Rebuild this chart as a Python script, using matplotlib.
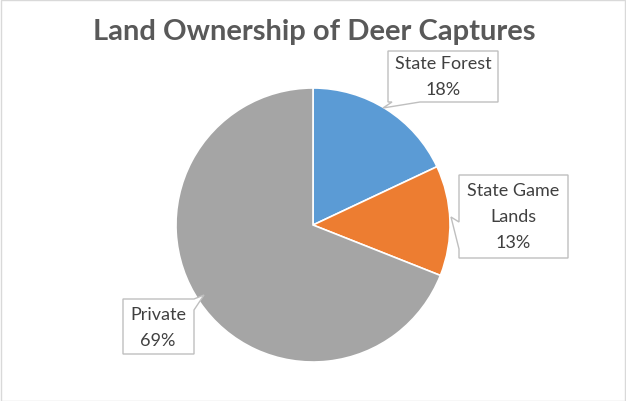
import matplotlib.pyplot as plt
from matplotlib.patches import Polygon, Rectangle

labels = ["State Forest", "State Game Lands", "Private"]
label_text = ["State Forest\n18%", "State Game\nLands\n13%", "Private\n69%"]
shares = [18, 13, 69]
colors = ["#5B9BD5", "#ED7D31", "#A5A5A5"]

W, H = 626, 402
fig = plt.figure(figsize=(W / 100, H / 100), dpi=100)
ax = fig.add_axes([0, 0, 1, 1])


def fy(y):
    # pixel row (top down) -> data y
    return H - y


ax.add_patch(Rectangle((0.5, 0.5), W - 1, H - 1, fill=False, ec="#D9D9D9", lw=1))

ax.pie(shares, colors=colors, startangle=90, counterclock=False,
       center=(313, fy(226)), radius=137, frame=True,
       wedgeprops={"linewidth": 1.2, "edgecolor": "white"})
ax.set_xlim(0, W)
ax.set_ylim(0, H)
ax.set_aspect("equal")
ax.axis("off")

ax.text(314, fy(32), "Land Ownership of Deer Captures", ha="center", va="center",
        fontsize=21, fontweight="bold", color="#595959", family="Lato")

# callout outlines (box with a small pointer), pixel coords
callouts = [
    [(388, 52), (498, 52), (498, 103), (420, 103), (383, 109), (392, 103), (388, 103)],
    [(459, 176), (568, 176), (568, 259), (459, 259), (459, 250), (451, 218), (459, 223)],
    [(123, 300), (194, 300), (204, 296), (194, 311), (194, 355), (123, 355)],
]
text_pos = [(443, 77), (513, 217), (158, 328)]

for pts, txt, (tx, ty) in zip(callouts, label_text, text_pos):
    ax.add_patch(Polygon([(x, fy(y)) for x, y in pts], closed=True,
                         fc="white", ec="#BFBFBF", lw=1, zorder=3))
    ax.text(tx, fy(ty), txt, ha="center", va="center", fontsize=13,
            color="#404040", family="Lato", linespacing=1.75, zorder=4)

fig.savefig("out.png", dpi=100)
